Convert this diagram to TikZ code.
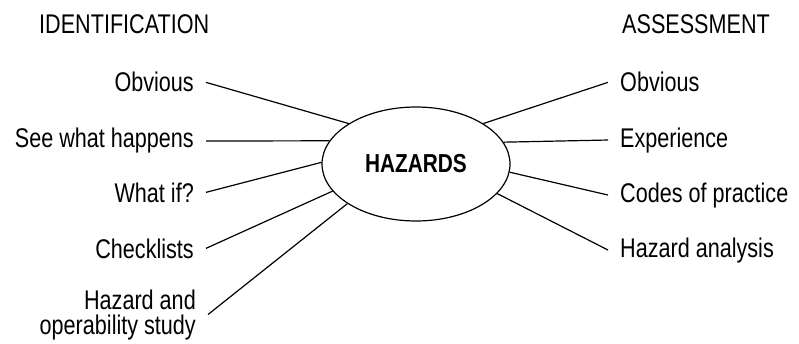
\documentclass[tikz,border=0pt]{standalone}
\usepackage{fontspec}
\setmainfont[FakeStretch=0.8]{Liberation Sans}
\usepackage{tikz}
\usetikzlibrary{shapes.geometric, positioning}

\begin{document}
\begin{tikzpicture}[x=1pt, y=1pt,
        lbl/.style={inner xsep=12pt, inner ysep=2pt,
                    font=\fontsize{27}{25}\selectfont},
        lleft/.style={lbl, anchor=base east, align=right},
        lright/.style={lbl, anchor=base west, align=left},
        head/.style={inner sep=0pt, anchor=base west,
                     font=\fontsize{27}{28}\selectfont},
        hub/.style={ellipse, draw, line width=1.2pt, minimum width=188pt,
                    minimum height=114pt, inner sep=0pt,
                    font=\fontsize{26}{28}\selectfont\bfseries},
        link/.style={line width=1.2pt}]
        \useasboundingbox (0,0) rectangle (799,343);
        \node[hub] (hz) at (416,179) {HAZARDS};
        \node[head] (ident) at (39,309) {IDENTIFICATION};
        \node[head] (assess) at (622,309) {ASSESSMENT};
        % identification side
        \node[lleft] (id1) at (206,251) {Obvious};
        \node[lleft] (id2) at (206,195) {See what happens};
        \node[lleft] (id3) at (206,141) {What if?};
        \node[lleft] (id4) at (206,85) {Checklists};
        \node[lleft] (id5) at (208,9) {Hazard and\\operability study};
        % assessment side
        \node[lright] (as1) at (608,251) {Obvious};
        \node[lright] (as2) at (608,196) {Experience};
        \node[lright] (as3) at (608,141) {Codes of practice};
        \node[lright] (as4) at (608,86) {Hazard analysis};
        \draw[link] (id1.east) -- (hz.149);
        \draw[link] (id2.east) -- (hz.165);
        \draw[link] (id3.east) -- (hz.179);
        \draw[link] (id4.east) -- (hz.198);
        \draw[link] (id5.east) -- (hz.210);
        \draw[link] (as1.west) -- (hz.31);
        \draw[link] (as2.west) -- (hz.14);
        \draw[link] (as3.west) -- (hz.-5);
        \draw[link] (as4.west) -- (hz.-20);
      \end{tikzpicture}
\end{document}
